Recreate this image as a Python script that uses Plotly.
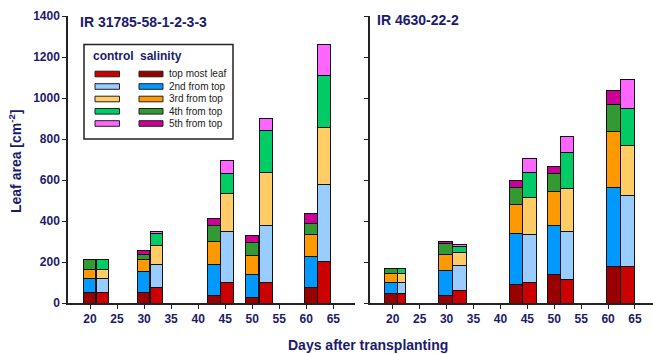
import plotly.graph_objects as go

W, H = 653, 354
NAVY = "#1b1b6b"
FONT = "Liberation Sans, Arial, sans-serif"

# Leaf positions (top of the plant downwards) and colours per treatment
layers = ["top most leaf", "2nd from top", "3rd from top", "4th from top", "5th from top"]
control_colors = ["#CC0000", "#99CCFF", "#FFCC66", "#00CC66", "#FF66FF"]
salinity_colors = ["#990000", "#0099FF", "#FF9900", "#339933", "#CC0099"]

# ---- IR 31785-58-1-2-3-3 : leaf area [cm2] per leaf layer (rows) at each sampling day (columns)
ir31785_sal_days = [19.9, 29.9, 42.9, 50.0, 60.9]
ir31785_ctl_days = [22.3, 32.3, 45.4, 52.5, 63.3]
ir31785_sal_width = [2.35, 2.35, 2.35, 2.35, 2.35]
ir31785_ctl_width = [2.35, 2.35, 2.35, 2.35, 2.35]
ir31785_salinity = [
    [52, 52, 39, 26, 78],
    [68, 101, 151, 114, 148],
    [44, 60, 112, 93, 106],
    [49, 26, 74, 63, 57],
    [None, 16, 37, 34, 49],
]
ir31785_control = [
    [52, 77, 102, 102, 202],
    [68, 112, 249, 277, 374],
    [44, 92, 182, 259, 279],
    [49, 59, 100, 202, 257],
    [None, 8, 60, 62, 147],
]

# ---- IR 4630-22-2
ir4630_sal_days = [19.7, 29.8, 42.9, 50.0, 61.0]
ir4630_ctl_days = [21.7, 32.4, 45.4, 52.4, 63.6]
ir4630_sal_width = [2.5, 2.5, 2.5, 2.5, 2.5]
ir4630_ctl_width = [1.5, 2.5, 2.5, 2.5, 2.5]
ir4630_salinity = [
    [47, 39, 88, 141, 177],
    [54, 122, 252, 236, 387],
    [44, 78, 141, 168, 275],
    [24, 52, 83, 88, 127],
    [None, 11, 36, 35, 70],
]
ir4630_control = [
    [47, 63, 102, 117, 177],
    [54, 121, 231, 234, 345],
    [44, 61, 183, 209, 245],
    [24, 30, 123, 173, 183],
    [None, 11, 67, 78, 141],
]

day_ticks = [20, 25, 30, 35, 40, 45, 50, 55, 60, 65]
area_ticks = [0, 200, 400, 600, 800, 1000, 1200, 1400]


def px(x):
    return x / W


def py(y):
    return 1 - y / H


fig = go.Figure()


def add_stack(days, widths, values, colors, xa, ya, group):
    for layer, vals, col in zip(layers, values, colors):
        fig.add_trace(go.Bar(
            x=days, y=vals, width=widths, name=f"{group} {layer}",
            marker=dict(color=col, line=dict(color="#111111", width=1)),
            xaxis=xa, yaxis=ya, showlegend=False,
        ))


add_stack(ir31785_sal_days, ir31785_sal_width, ir31785_salinity, salinity_colors, "x", "y", "salinity")
add_stack(ir31785_ctl_days, ir31785_ctl_width, ir31785_control, control_colors, "x", "y", "control")
add_stack(ir4630_sal_days, ir4630_sal_width, ir4630_salinity, salinity_colors, "x2", "y2", "salinity")
add_stack(ir4630_ctl_days, ir4630_ctl_width, ir4630_control, control_colors, "x2", "y2", "control")

tickfont = dict(family=FONT, size=12, color=NAVY, weight="bold")
common_x = dict(tickvals=day_ticks, ticks="outside", ticklen=4, tickcolor="#222",
                showline=True, linecolor="#222", linewidth=1.5, showgrid=False,
                zeroline=False, tickfont=tickfont, automargin=False)
common_y = dict(range=[0, 1400], tickvals=area_ticks, ticks="outside", ticklen=4,
                tickcolor="#222", showline=True, linecolor="#222", linewidth=1.5,
                showgrid=False, zeroline=False, tickfont=tickfont, automargin=False,
                domain=[py(303), py(16)])

fig.update_layout(
    width=W, height=H, autosize=False,
    margin=dict(l=0, r=0, t=0, b=0, autoexpand=False),
    paper_bgcolor="white", plot_bgcolor="white",
    barmode="stack", showlegend=False,
    xaxis=dict(domain=[px(68), px(355)], range=[15.93, 69.01], anchor="y", **common_x),
    yaxis=dict(anchor="x", **common_y),
    xaxis2=dict(domain=[px(370), 1.0], range=[15.78, 68.35], anchor="y2", **common_x),
    yaxis2=dict(anchor="x2", showticklabels=False, **common_y),
)

ann = []
shapes = []
bold = dict(family=FONT, color=NAVY, weight="bold")

ann.append(dict(text="IR 31785-58-1-2-3-3", x=px(78), y=py(22), xref="paper", yref="paper",
                xanchor="left", yanchor="middle", showarrow=False, font=dict(size=14, **bold)))
ann.append(dict(text="IR 4630-22-2", x=px(375), y=py(20), xref="paper", yref="paper",
                xanchor="left", yanchor="middle", showarrow=False, font=dict(size=14, **bold)))
ann.append(dict(text="Leaf area [cm<sup>-2</sup>]", x=px(15), y=py(161), xref="paper", yref="paper",
                xanchor="center", yanchor="middle", textangle=-90, showarrow=False,
                font=dict(size=14, **bold)))
ann.append(dict(text="Days after transplanting", x=px(368), y=py(345), xref="paper", yref="paper",
                xanchor="center", yanchor="middle", showarrow=False, font=dict(size=14, **bold)))

# Legend box
shapes.append(dict(type="rect", xref="paper", yref="paper", x0=px(84), x1=px(233),
                   y0=py(139), y1=py(44.5), line=dict(color="#222", width=1.5),
                   fillcolor="white", layer="above"))
ann.append(dict(text="control", x=px(90.5), y=py(56.5), xref="paper", yref="paper",
                xanchor="left", yanchor="middle", showarrow=False, font=dict(size=12, **bold)))
ann.append(dict(text="salinity", x=px(138), y=py(56.5), xref="paper", yref="paper",
                xanchor="left", yanchor="middle", showarrow=False, font=dict(size=12, **bold)))
row_y = [74, 86.5, 99, 111.3, 123.5]
for i, layer in enumerate(layers):
    yc = row_y[i]
    shapes.append(dict(type="rect", xref="paper", yref="paper", x0=px(95), x1=px(119.5),
                       y0=py(yc + 2.8), y1=py(yc - 2.8), fillcolor=control_colors[i],
                       line=dict(color="#222", width=1), layer="above"))
    shapes.append(dict(type="rect", xref="paper", yref="paper", x0=px(139), x1=px(163),
                       y0=py(yc + 2.8), y1=py(yc - 2.8), fillcolor=salinity_colors[i],
                       line=dict(color="#222", width=1), layer="above"))
    ann.append(dict(text=layer, x=px(167), y=py(yc), xref="paper", yref="paper",
                    xanchor="left", yanchor="middle", showarrow=False,
                    font=dict(family=FONT, size=10, color="#222")))

fig.update_layout(annotations=ann, shapes=shapes)
fig.write_html("out.html")
